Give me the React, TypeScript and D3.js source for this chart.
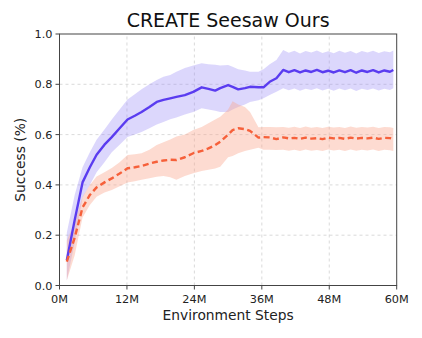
import React from "react"
import * as d3 from "d3"

const width = 422
const height = 338
const margin = { top: 34, right: 25.3, bottom: 52.5, left: 59.5 }

// environment steps (millions)
const steps = [
  1.3, 2.7, 4.1, 5.4, 6.6, 8.0, 9.3, 10.7, 12.1, 13.4, 14.6, 16.0, 17.3, 18.5, 19.7, 20.8,
  22.3, 23.8, 25.3, 26.5, 27.7, 28.6, 30.0, 30.8, 31.8, 33.0, 33.9, 35.4, 36.3, 37.4, 38.6,
  39.8, 40.8, 41.8, 42.8, 43.8, 44.8, 45.8, 46.8, 47.8, 48.8, 49.8, 50.8, 51.8, 52.8, 53.8,
  54.8, 55.8, 56.8, 57.8, 58.8, 59.4,
]

const oursMean = [
  0.1, 0.26, 0.41, 0.47, 0.52, 0.56, 0.59, 0.625, 0.66, 0.675, 0.69, 0.71, 0.73, 0.738, 0.744,
  0.75, 0.757, 0.77, 0.788, 0.782, 0.775, 0.785, 0.797, 0.79, 0.78, 0.785, 0.79, 0.788, 0.788,
  0.81, 0.824, 0.857, 0.848, 0.856, 0.847, 0.855, 0.849, 0.857, 0.848, 0.854, 0.847, 0.855,
  0.848, 0.856, 0.846, 0.855, 0.849, 0.856, 0.847, 0.855, 0.85, 0.857,
]
const oursLow = [
  0.02, 0.17, 0.35, 0.4, 0.45, 0.49, 0.53, 0.56, 0.59, 0.6, 0.61, 0.625, 0.64, 0.65, 0.661,
  0.668, 0.68, 0.69, 0.705, 0.7, 0.695, 0.69, 0.69, 0.7, 0.71, 0.72, 0.73, 0.737, 0.745, 0.757,
  0.77, 0.784, 0.776, 0.783, 0.774, 0.782, 0.777, 0.784, 0.775, 0.782, 0.774, 0.783, 0.776,
  0.783, 0.773, 0.782, 0.777, 0.783, 0.775, 0.782, 0.777, 0.784,
]
const oursHigh = [
  0.21, 0.36, 0.47, 0.53, 0.58, 0.62, 0.66, 0.7, 0.74, 0.76, 0.78, 0.8, 0.817, 0.83, 0.837,
  0.85, 0.865, 0.875, 0.884, 0.88, 0.878, 0.875, 0.877, 0.87, 0.86, 0.855, 0.85, 0.85, 0.86,
  0.88, 0.897, 0.936, 0.925, 0.933, 0.922, 0.932, 0.926, 0.934, 0.924, 0.931, 0.923, 0.933,
  0.925, 0.932, 0.922, 0.932, 0.926, 0.933, 0.924, 0.931, 0.927, 0.934,
]

const baseMean = [
  0.095, 0.19, 0.31, 0.36, 0.39, 0.41, 0.426, 0.445, 0.466, 0.47, 0.475, 0.485, 0.492, 0.497,
  0.5, 0.499, 0.51, 0.526, 0.535, 0.545, 0.558, 0.572, 0.6, 0.618, 0.625, 0.622, 0.615, 0.588,
  0.59, 0.589, 0.582, 0.589, 0.585, 0.587, 0.583, 0.588, 0.584, 0.586, 0.582, 0.588, 0.585,
  0.587, 0.583, 0.588, 0.584, 0.587, 0.585, 0.588, 0.583, 0.587, 0.586, 0.582,
]
const baseLow = [
  0.02, 0.12, 0.27, 0.32, 0.353, 0.37, 0.38, 0.395, 0.41, 0.415, 0.42, 0.426, 0.432, 0.435,
  0.43, 0.42, 0.435, 0.446, 0.455, 0.46, 0.465, 0.472, 0.51, 0.515, 0.526, 0.535, 0.54, 0.548,
  0.54, 0.54, 0.539, 0.54, 0.536, 0.54, 0.535, 0.541, 0.536, 0.539, 0.535, 0.541, 0.537, 0.54,
  0.535, 0.541, 0.536, 0.54, 0.537, 0.541, 0.535, 0.54, 0.538, 0.535,
]
const baseHigh = [
  0.18, 0.25, 0.353, 0.4, 0.433, 0.45, 0.467, 0.49, 0.519, 0.522, 0.526, 0.54, 0.559, 0.57,
  0.581, 0.592, 0.6, 0.618, 0.63, 0.645, 0.66, 0.671, 0.7, 0.733, 0.72, 0.71, 0.69, 0.629,
  0.63, 0.63, 0.629, 0.63, 0.627, 0.631, 0.626, 0.632, 0.627, 0.63, 0.626, 0.631, 0.628, 0.63,
  0.626, 0.632, 0.627, 0.63, 0.628, 0.631, 0.626, 0.63, 0.629, 0.626,
]

const xTicks = [0, 12, 24, 36, 48, 60]
const yTicks = [0, 0.2, 0.4, 0.6, 0.8, 1.0]

const App = () => {
  const x = d3.scaleLinear().domain([0, 60]).range([margin.left, width - margin.right])
  const y = d3.scaleLinear().domain([0, 1]).range([height - margin.bottom, margin.top])

  const band = (lo: number[], hi: number[]) =>
    d3
      .area<number>()
      .x((d) => x(d))
      .y0((d, i) => y(lo[i]))
      .y1((d, i) => y(hi[i]))(steps) as string
  const line = (vals: number[]) =>
    d3
      .line<number>()
      .x((d) => x(d))
      .y((d, i) => y(vals[i]))(steps) as string

  const font = "DejaVu Sans, sans-serif"
  const x0 = margin.left
  const x1 = width - margin.right
  const y0 = height - margin.bottom
  const y1 = margin.top

  return (
    <svg width={width} height={height} style={{ position: "absolute", left: 0, top: 0, background: "#fff" }}>
      <text x={(x0 + x1) / 2} y={26.5} textAnchor="middle" fontFamily={font} fontSize={19} fill="#111">
        CREATE Seesaw Ours
      </text>

      {/* grid */}
      {xTicks.slice(1, -1).map((t) => (
        <line key={"gx" + t} x1={x(t)} x2={x(t)} y1={y0} y2={y1} stroke="#d0d0d0" strokeDasharray="3,3" strokeWidth={0.8} />
      ))}
      {yTicks.slice(1, -1).map((t) => (
        <line key={"gy" + t} x1={x0} x2={x1} y1={y(t)} y2={y(t)} stroke="#d0d0d0" strokeDasharray="3,3" strokeWidth={0.8} />
      ))}

      {/* shaded bands */}
      <path d={band(oursLow, oursHigh)} fill="#9b8cf7" fillOpacity={0.35} />
      <path d={band(baseLow, baseHigh)} fill="#f9a58c" fillOpacity={0.4} />

      {/* mean lines */}
      <path d={line(oursMean)} fill="none" stroke="#5a3cf0" strokeWidth={2.4} strokeLinejoin="round" />
      <path d={line(baseMean)} fill="none" stroke="#f6603a" strokeWidth={2.4} strokeDasharray="6,3.5" strokeLinejoin="round" />

      {/* frame */}
      <rect x={x0} y={y1} width={x1 - x0} height={y0 - y1} fill="none" stroke="#444" strokeWidth={1} />

      {/* x axis */}
      {xTicks.map((t) => (
        <g key={"xt" + t}>
          <line x1={x(t)} x2={x(t)} y1={y0} y2={y0 + 4} stroke="#444" strokeWidth={1} />
          <text x={x(t)} y={303} textAnchor="middle" fontFamily={font} fontSize={11.3} fill="#222">
            {t + "M"}
          </text>
        </g>
      ))}
      <text x={(x0 + x1) / 2} y={320} textAnchor="middle" fontFamily={font} fontSize={13.8} fill="#222">
        Environment Steps
      </text>

      {/* y axis */}
      {yTicks.map((t) => (
        <g key={"yt" + t}>
          <line x1={x0 - 4} x2={x0} y1={y(t)} y2={y(t)} stroke="#444" strokeWidth={1} />
          <text x={x0 - 7} y={y(t) + 4} textAnchor="end" fontFamily={font} fontSize={11.3} fill="#222">
            {t.toFixed(1)}
          </text>
        </g>
      ))}
      <text
        transform={`translate(25,${(y0 + y1) / 2}) rotate(-90)`}
        textAnchor="middle"
        fontFamily={font}
        fontSize={13.8}
        fill="#222"
      >
        Success (%)
      </text>
    </svg>
  )
}

export default App
